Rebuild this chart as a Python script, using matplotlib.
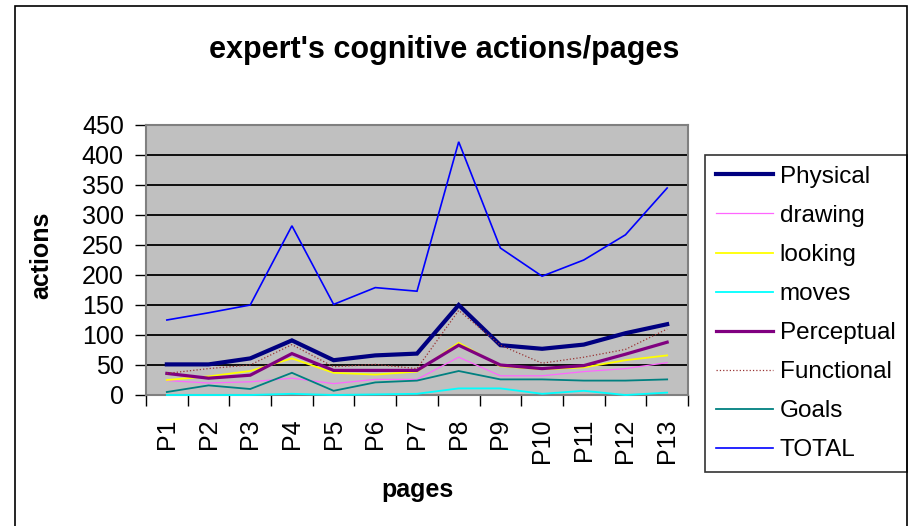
import matplotlib
matplotlib.use("Agg")
import matplotlib.pyplot as plt
from matplotlib.patches import Rectangle

plt.rcParams["font.family"] = ["Liberation Sans", "DejaVu Sans"]

# data
pages = ["P1", "P2", "P3", "P4", "P5", "P6", "P7", "P8", "P9", "P10", "P11", "P12", "P13"]
physical = [51, 51, 61, 91, 58, 66, 69, 150, 83, 77, 84, 103, 118]
drawing = [24, 20, 22, 28, 19, 26, 26, 63, 32, 32, 39, 44, 54]
looking = [25, 31, 40, 61, 37, 34, 39, 87, 48, 43, 46, 58, 66]
moves = [0, 0, 0, 2, 0, 1, 2, 11, 11, 2, 7, 0, 4]
perceptual = [36, 28, 33, 69, 41, 41, 41, 83, 50, 44, 49, 68, 88]
functional = [36, 44, 50, 84, 47, 51, 44, 141, 83, 53, 63, 76, 110]
goals = [5, 16, 10, 37, 7, 21, 24, 40, 26, 26, 24, 24, 26]
total = [125, 137, 150, 282, 151, 179, 173, 422, 245, 198, 225, 267, 345]
yticks = [0, 50, 100, 150, 200, 250, 300, 350, 400, 450]

W, H = 911, 526
fig = plt.figure(figsize=(W / 100, H / 100), dpi=100)
fig.patch.set_facecolor("white")

# outer chart border
fig.patches.append(Rectangle((15 / W, -0.02), 892 / W, 1.02 - 6 / H, transform=fig.transFigure,
                             fill=False, edgecolor="black", linewidth=1.2))

ax = fig.add_axes([146 / W, 1 - 395 / H, 542 / W, 270 / H])
ax.set_facecolor("#C0C0C0")
for s in ax.spines.values():
    s.set_color("#808080")
    s.set_linewidth(1.5)

x = list(range(len(pages)))
series = [
    ("Physical", physical, "#000080", 3.0, "-"),
    ("drawing", drawing, "#FF66FF", 0.9, "-"),
    ("looking", looking, "#FFFF00", 1.3, "-"),
    ("moves", moves, "#00FFFF", 1.3, "-"),
    ("Perceptual", perceptual, "#800080", 2.3, "-"),
    ("Functional", functional, "#993333", 0.9, ":"),
    ("Goals", goals, "#008080", 1.3, "-"),
    ("TOTAL", total, "#0000FF", 1.2, "-"),
]
for label, vals, color, lw, ls in series:
    ax.plot(x, vals, color=color, linewidth=lw, linestyle=ls, label=label,
            solid_joinstyle="miter", clip_on=False, zorder=3)

ax.set_xlim(-0.5, len(pages) - 0.5)
ax.set_ylim(0, 450)
ax.set_yticks(yticks)
ax.yaxis.grid(True, color="black", linewidth=1.3)
ax.set_axisbelow(True)
ax.tick_params(axis="y", labelsize=18, length=8, width=1, pad=8, direction="out")

ax.set_xticks(x)
ax.set_xticklabels(pages, rotation=90)
ax.set_xticks([i - 0.5 for i in range(len(pages) + 1)], minor=True)
ax.tick_params(axis="x", which="major", length=0, labelsize=18, pad=17)
ax.tick_params(axis="x", which="minor", length=8, width=1, direction="out")

fig.text(444 / W, 1 - 58 / H, "expert's cognitive actions/pages", ha="center",
         va="baseline", fontsize=22, fontweight="bold")
fig.text(41 / W, 1 - 255 / H, "actions", rotation=90, ha="center", va="center",
         fontsize=18, fontweight="bold")
fig.text(417 / W, 1 - 490 / H, "pages", ha="center", va="center",
         fontsize=18, fontweight="bold")

leg = ax.legend(loc="upper left", bbox_to_anchor=(705 / W, 1 - 155 / H),
                bbox_transform=fig.transFigure, fontsize=17.5, frameon=True,
                fancybox=False, edgecolor="black", handlelength=2.35,
                handletextpad=0.28, labelspacing=0.7, borderpad=0.45,
                borderaxespad=0)
leg.get_frame().set_linewidth(1.2)

fig.savefig("out.png", dpi=100)
